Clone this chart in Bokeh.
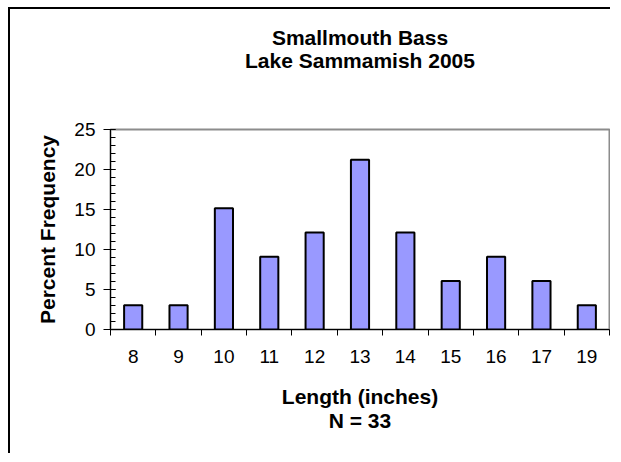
from bokeh.plotting import figure
from bokeh.models import (Range1d, LinearAxis, FixedTicker, SingleIntervalTicker,
                          ColumnDataSource)
from bokeh.embed import file_html
from bokeh.resources import INLINE

# ---- data ----
categories = ["8", "9", "10", "11", "12", "13", "14", "15", "16", "17", "19"]
percent_frequency = [3.03, 3.03, 15.15, 9.09, 12.12, 21.21, 12.12, 6.06, 9.09, 6.06, 3.03]
title_lines = ["Smallmouth Bass", "Lake Sammamish 2005"]
x_title_lines = ["Length (inches)", "N = 33"]
y_title = "Percent Frequency"

FONT = "Liberation Sans"
W, H = 602, 446
ML, MR, MT, MB = 100, 3, 120, 126

n = len(categories)
centers = [i + 0.5 for i in range(n)]          # slot centres on a 0..n category axis
bounds = list(range(n + 1))                    # slot boundaries (Excel-style ticks)
src = ColumnDataSource(dict(x=centers, top=percent_frequency, cat=categories))

p = figure(x_range=Range1d(0, n), y_range=Range1d(0, 25),
           width=W, height=H, output_backend="svg", toolbar_location=None,
           x_axis_location=None, y_axis_location=None, title=None,
           min_border_left=ML, min_border_right=MR, min_border_top=MT, min_border_bottom=MB)
p.styles = {"margin-left": "8px", "margin-top": "7px",
            "border-left": "2px solid black", "border-top": "2px solid black"}
p.xgrid.visible = False
p.ygrid.visible = False
p.outline_line_color = "#8c8c8c"
p.outline_line_width = 2
p.background_fill_color = "white"
p.border_fill_color = "white"

p.vbar(x="x", top="top", source=src, width=0.4, fill_color="#9999ff",
       line_color="black", line_width=2)

# chart title: two centred lines as the label of an invisible top axis
title_ax = LinearAxis(ticker=FixedTicker(ticks=[]),
                      axis_line_color=None, major_tick_line_color=None,
                      minor_tick_line_color=None, major_tick_out=0, major_tick_in=0,
                      minor_tick_out=0, major_label_standoff=0,
                      axis_label="\n".join(title_lines), axis_label_text_font=FONT,
                      axis_label_text_font_size="21px", axis_label_text_font_style="bold",
                      axis_label_text_color="black", axis_label_standoff=58,
                      axis_label_text_line_height=1.0)
p.add_layout(title_ax, "above")

# y axis
yax = LinearAxis(ticker=SingleIntervalTicker(interval=5, num_minor_ticks=5),
                 axis_line_color="black", axis_line_width=1,
                 major_tick_in=5, major_tick_out=7, minor_tick_in=5, minor_tick_out=0,
                 major_tick_line_color="black", minor_tick_line_color="black",
                 major_label_text_font=FONT, major_label_text_font_size="19px",
                 major_label_text_color="black", major_label_standoff=8,
                 axis_label=y_title, axis_label_text_font=FONT,
                 axis_label_text_font_size="21px", axis_label_text_font_style="bold",
                 axis_label_text_color="black", axis_label_standoff=12)
p.add_layout(yax, "left")

# x axis: labels at slot centres, tick marks at slot boundaries
xax = LinearAxis(ticker=FixedTicker(ticks=centers, minor_ticks=bounds),
                 axis_line_color="black", axis_line_width=1,
                 major_tick_line_color=None, major_tick_in=0, major_tick_out=6,
                 minor_tick_line_color="black", minor_tick_in=0, minor_tick_out=6,
                 major_label_overrides={c: lab for c, lab in zip(centers, categories)},
                 major_label_text_font=FONT, major_label_text_font_size="19px",
                 major_label_text_color="black", major_label_standoff=14,
                 axis_label="\n".join(x_title_lines), axis_label_text_font=FONT,
                 axis_label_text_font_size="21px", axis_label_text_font_style="bold",
                 axis_label_text_color="black", axis_label_standoff=19,
                 axis_label_text_line_height=1.05)
p.add_layout(xax, "below")

open("out.html", "w").write(file_html(p, INLINE))
